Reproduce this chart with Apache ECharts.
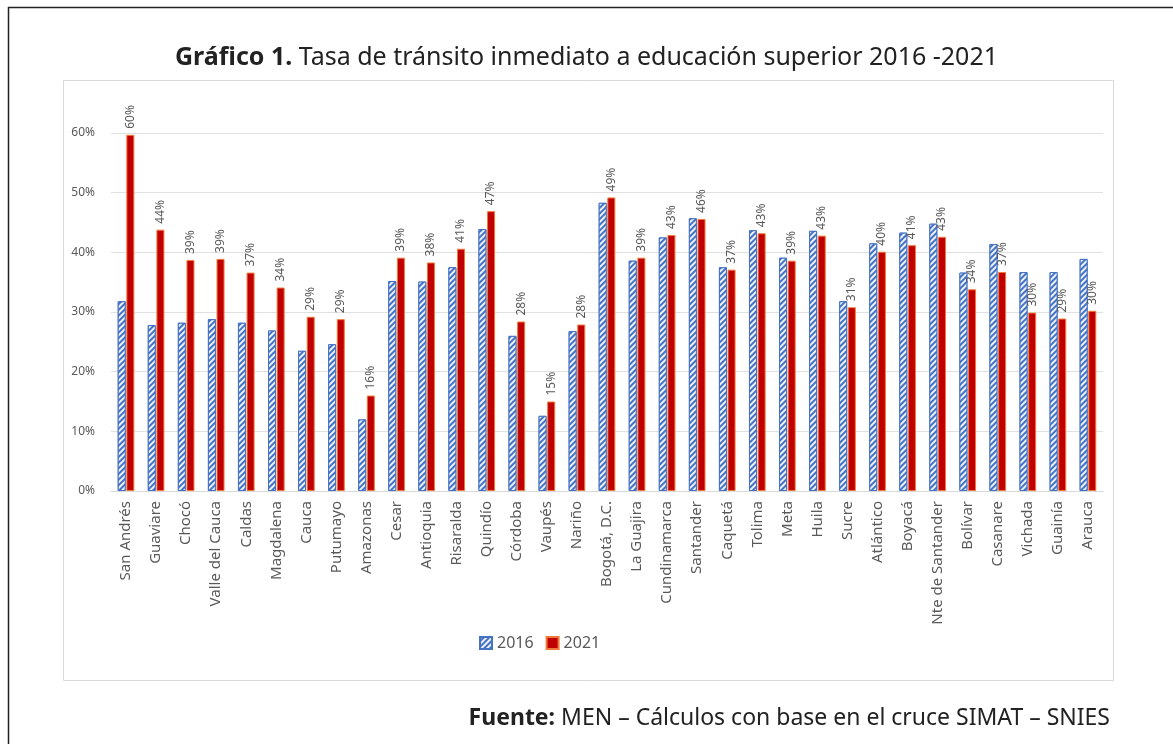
<!DOCTYPE html>
<html>
<head>
<meta charset="utf-8">
<script src="https://cdn.jsdelivr.net/npm/echarts@6/dist/echarts.min.js"></script>
<style>
  html, body { margin: 0; padding: 0; background: #fff; }
  #chart { width: 1173px; height: 744px; }
</style>
</head>
<body>
<div id="chart"></div>
<script>
// departamentos
const departamentos = ['San Andrés', 'Guaviare', 'Chocó', 'Valle del Cauca', 'Caldas', 'Magdalena', 'Cauca',
  'Putumayo', 'Amazonas', 'Cesar', 'Antioquia', 'Risaralda', 'Quindío', 'Córdoba', 'Vaupés', 'Nariño',
  'Bogotá, D.C.', 'La Guajira', 'Cundinamarca', 'Santander', 'Caquetá', 'Tolima', 'Meta', 'Huila', 'Sucre',
  'Atlántico', 'Boyacá', 'Nte de Santander', 'Bolívar', 'Casanare', 'Vichada', 'Guainía', 'Arauca']

// tasa de tránsito (%)
const tasa2016 = [31.8, 27.8, 28.2, 28.8, 28.2, 26.9, 23.5, 24.6, 12.0, 35.2, 35.1, 37.5, 43.9, 26.0, 12.6, 26.8,
  48.3, 38.6, 42.5, 45.7, 37.5, 43.7, 39.1, 43.6, 31.8, 41.5, 43.3, 44.8, 36.6, 41.4, 36.7, 36.7, 38.9]
const tasa2021 = [59.7, 43.8, 38.7, 38.9, 36.6, 34.1, 29.2, 28.8, 16.0, 39.1, 38.3, 40.6, 46.9, 28.4, 15.0, 27.9,
  49.2, 39.1, 42.9, 45.6, 37.1, 43.2, 38.6, 42.8, 30.8, 40.1, 41.2, 42.6, 33.8, 36.7, 29.9, 28.9, 30.2]

const yTicks = [0, 10, 20, 30, 40, 50, 60]

const chart = echarts.init(document.getElementById('chart'))
chart.setOption({
  backgroundColor: '#fff',
  textStyle: { fontFamily: 'Noto Sans' },
  title: [{
    text: '{b|Gráfico 1.} Tasa de tránsito inmediato a educación superior 2016 -2021',
    left: 'center',
    top: 40,
    textStyle: {
      fontSize: 25, fontWeight: 'normal', color: '#222',
      rich: { b: { fontSize: 25, fontWeight: 'bold', color: '#222' } }
    }
  }, {
    text: '{b|Fuente:} MEN – Cálculos con base en el cruce SIMAT – SNIES',
    right: 58,
    top: 702,
    textStyle: {
      fontSize: 23, fontWeight: 'normal', color: '#222',
      rich: { b: { fontSize: 23, fontWeight: 'bold', color: '#222' } }
    }
  }],
  graphic: [{
    type: 'rect',
    shape: { x: 8.5, y: 7.5, width: 1180, height: 760 },
    style: { fill: 'none', stroke: '#222', lineWidth: 1.5 },
    z: -1
  }, {
    type: 'rect',
    shape: { x: 63.5, y: 80.5, width: 1050, height: 600 },
    style: { fill: 'none', stroke: '#d9d9d9', lineWidth: 1 },
    z: -1
  }],
  legend: {
    top: 630,
    left: 474,
    icon: 'rect',
    itemWidth: 12,
    itemHeight: 12,
    itemGap: 12,
    textStyle: { fontSize: 16, color: '#595959' },
    data: ['2016', '2021']
  },
  grid: { left: 111, right: 70, top: 133, bottom: 253 },
  xAxis: {
    type: 'category',
    data: departamentos,
    axisLine: { lineStyle: { color: '#d9d9d9' } },
    axisTick: { show: false },
    axisLabel: { rotate: 90, interval: 0, fontSize: 15, color: '#595959', margin: 10 }
  },
  yAxis: {
    type: 'value',
    min: 0,
    max: yTicks[yTicks.length - 1],
    interval: 10,
    axisLine: { show: false },
    axisTick: { show: false },
    splitLine: { lineStyle: { color: '#e0e0e0' } },
    axisLabel: { formatter: '{value}%', fontSize: 12, color: '#595959', margin: 16 }
  },
  series: [{
    name: '2016',
    type: 'bar',
    barWidth: 8,
    barGap: '8%',
    data: tasa2016,
    itemStyle: {
      color: '#4472C4',
      borderColor: '#4472C4',
      borderWidth: 1,
      decal: {
        symbol: 'rect',
        symbolSize: 1,
        dashArrayX: [[1, 0]],
        dashArrayY: [2, 2],
        rotation: -Math.PI / 4,
        color: 'rgba(255,255,255,0.9)'
      }
    }
  }, {
    name: '2021',
    type: 'bar',
    barWidth: 8,
    data: tasa2021,
    itemStyle: { color: '#C00000', borderColor: '#F07838', borderWidth: 1 },
    label: {
      show: true,
      position: 'top',
      rotate: 90,
      align: 'left',
      verticalAlign: 'middle',
      distance: 6,
      fontSize: 12,
      color: '#595959',
      formatter: p => Math.round(p.value) + '%'
    }
  }]
})
</script>
</body>
</html>
